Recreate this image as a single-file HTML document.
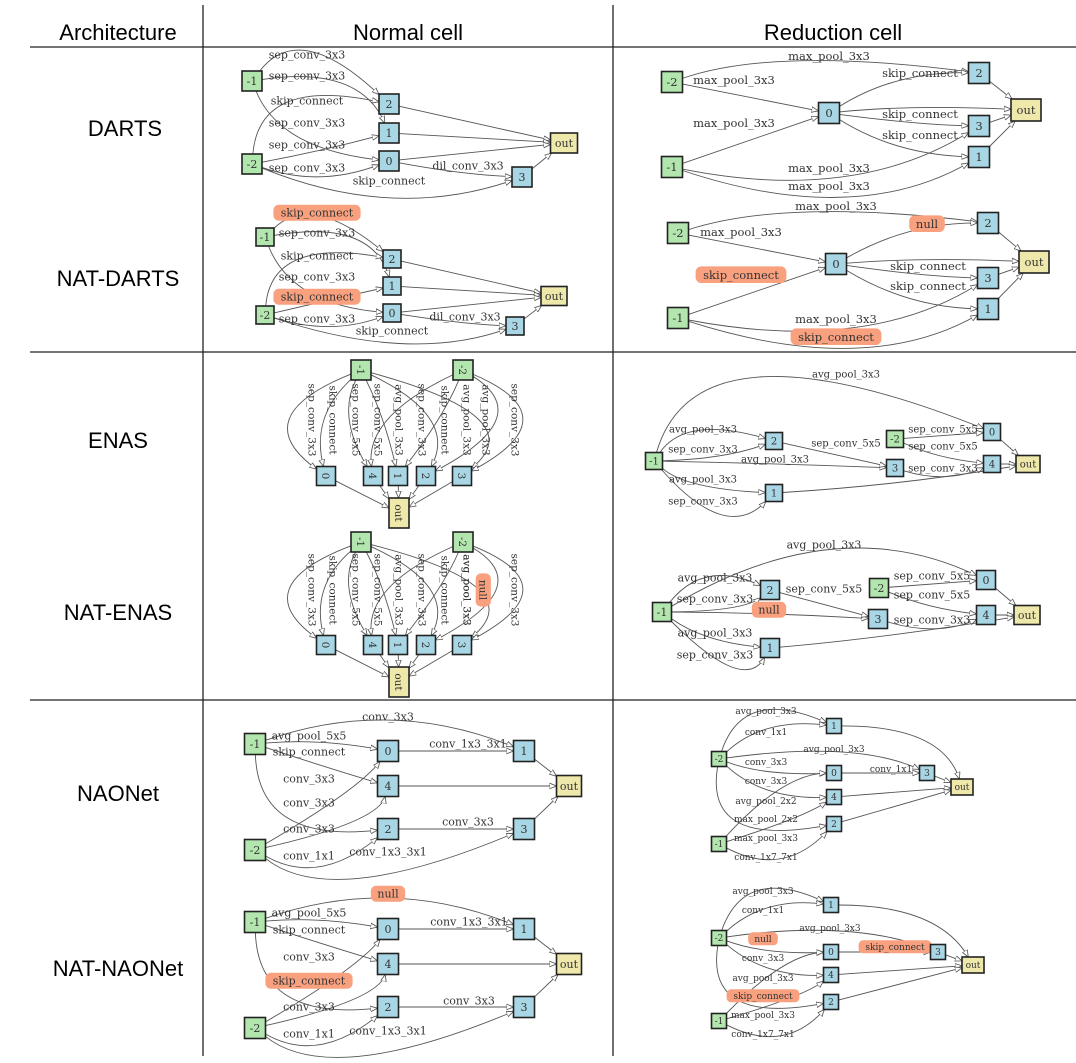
<!DOCTYPE html>
<html><head><meta charset="utf-8"><style>
html,body{margin:0;padding:0;background:#fff;}
svg{display:block;}
.h{font-family:"Liberation Sans",sans-serif;font-size:22px;fill:#000;}
</style></head><body>
<svg id="s" width="1076" height="1063" viewBox="0 0 1076 1063" xmlns="http://www.w3.org/2000/svg">
<defs><marker id="ar" viewBox="0 0 10 10" refX="10" refY="5" markerWidth="7" markerHeight="7" orient="auto" markerUnits="userSpaceOnUse"><path d="M0,1 L10,5 L0,9 Z" fill="#fff" stroke="#555" stroke-width="1.2"/></marker></defs>
<line x1="30" y1="47" x2="1076" y2="47" stroke="#222" stroke-width="1.3"/>
<line x1="30" y1="352" x2="1076" y2="352" stroke="#222" stroke-width="1.3"/>
<line x1="30" y1="700" x2="1076" y2="700" stroke="#222" stroke-width="1.3"/>
<line x1="203" y1="5" x2="203" y2="1056" stroke="#222" stroke-width="1.3"/>
<line x1="613" y1="5" x2="613" y2="1056" stroke="#222" stroke-width="1.3"/>
<text class="h" x="118" y="40" text-anchor="middle">Architecture</text>
<text class="h" x="408" y="40" text-anchor="middle">Normal cell</text>
<text class="h" x="833" y="40" text-anchor="middle">Reduction cell</text>
<text class="h" x="125" y="136" text-anchor="middle">DARTS</text>
<text class="h" x="118" y="286" text-anchor="middle">NAT-DARTS</text>
<text class="h" x="118" y="448" text-anchor="middle">ENAS</text>
<text class="h" x="118" y="620" text-anchor="middle">NAT-ENAS</text>
<text class="h" x="118" y="801" text-anchor="middle">NAONet</text>
<text class="h" x="118" y="976" text-anchor="middle">NAT-NAONet</text>
<g id="g"></g>
</svg>
<script>
var out='',edges='',labs='',nodes={},P='';
var COL={g:'#b2e6ae',b:'#a9d6e5',y:'#eee8aa'};
var FF='font-family="DejaVu Serif, Liberation Serif, serif"';
function N(id,x,y,lab,t,w,h,rot,fs){nodes[P+id]={x:x,y:y,w:w,h:h};
 out+='<rect x="'+(x-w/2)+'" y="'+(y-h/2)+'" width="'+w+'" height="'+h+'" fill="'+COL[t]+'" stroke="#222" stroke-width="1.6"/>';
 var tr=rot?' transform="rotate(90 '+x+' '+y+')"':'';
 out+='<text x="'+x+'" y="'+(y+fs*0.36)+'" text-anchor="middle" font-size="'+fs+'" fill="#333" '+FF+tr+'>'+lab+'</text>';}
function clip(n,px,py){var dx=px-n.x,dy=py-n.y;if(dx==0&&dy==0)return[n.x,n.y];
 var t=Math.min(dx?n.w/2/Math.abs(dx):1e9,dy?n.h/2/Math.abs(dy):1e9);return[n.x+dx*t,n.y+dy*t];}
function E(a,b,via){var s=nodes[P+a],d=nodes[P+b];
 if(!via){var p=clip(s,d.x,d.y),q=clip(d,s.x,s.y);edges+='<path d="M'+p+' L'+q+'" fill="none" stroke="#555" stroke-width="0.9" marker-end="url(#ar)"/>';return;}
 var cx=2*via[0]-(s.x+d.x)/2,cy=2*via[1]-(s.y+d.y)/2;
 var p=clip(s,cx,cy),q=clip(d,cx,cy);
 edges+='<path d="M'+p+' Q'+cx+','+cy+' '+q+'" fill="none" stroke="#555" stroke-width="0.9" marker-end="url(#ar)"/>';}
function L(x,y,t,fs,hl,rot){var w=t.length*fs*0.6+8,tr=rot?' transform="rotate(90 '+x+' '+y+')"':'';
 if(hl)labs+='<rect x="'+(x-w/2)+'" y="'+(y-fs*0.75)+'" width="'+w+'" height="'+(fs*1.45)+'" rx="'+(fs*0.5)+'" fill="#f9a07f"'+tr+'/>';
 labs+='<text x="'+x+'" y="'+(y+fs*0.33)+'" text-anchor="middle" font-size="'+fs+'" fill="#333" '+FF+tr+'>'+t+'</text>';}

/* DARTS normal */
P='a';var f=11,s=20;
N('m1',252,81,'-1','g',s,s,0,f);N('m2',252,164,'-2','g',s,s,0,f);
N('2',389,104,'2','b',s,s,0,f);N('1',389,133,'1','b',s,s,0,f);N('0',389,161,'0','b',s,s,0,f);
N('3',522,177,'3','b',s,s,0,f);N('o',564,143,'out','y',27,20,0,f);
E('m1','2',[310,56]);E('m1','1',[340,86]);E('m1','0',[300,135]);E('m2','2',[290,105]);E('m2','1',[320,150]);E('m2','0',[320,175]);E('m2','3',[390,196]);
E('2','o');E('1','o');E('0','o');E('0','3',[460,172]);E('3','o');
L(307,55,'sep_conv_3x3',f);L(307,76,'sep_conv_3x3',f);L(307,101,'skip_connect',f);L(307,123,'sep_conv_3x3',f);L(307,145,'sep_conv_3x3',f);L(307,168,'sep_conv_3x3',f);L(389,181,'skip_connect',f);L(468,166,'dil_conv_3x3',f);
/* NAT-DARTS normal */
P='b';s=18;
N('m1',265,237,'-1','g',s,s,0,f);N('m2',265,315,'-2','g',s,s,0,f);
N('2',392,259,'2','b',s,s,0,f);N('1',392,286,'1','b',s,s,0,f);N('0',392,313,'0','b',s,s,0,f);
N('3',515,326,'3','b',s,s,0,f);N('o',554,296,'out','y',26,19,0,f);
E('m1','2',[320,220]);E('m1','1',[350,240]);E('m1','0',[310,290]);E('m2','2',[300,262]);E('m2','1',[330,300]);E('m2','0',[330,325]);E('m2','3',[400,342]);
E('2','o');E('1','o');E('0','o');E('0','3',[460,322]);E('3','o');
L(317,213,'skip_connect',f,1);L(317,233,'sep_conv_3x3',f);L(317,256,'skip_connect',f);L(317,277,'sep_conv_3x3',f);L(317,297,'skip_connect',f,1);L(317,319,'sep_conv_3x3',f);L(392,331,'skip_connect',f);L(465,317,'dil_conv_3x3',f);
/* DARTS reduction */
P='c';s=21;f=11.5;
N('m2',672,82,'-2','g',s,s,0,f);N('m1',672,167,'-1','g',s,s,0,f);N('0',829,113,'0','b',s,s,0,f);
N('2',979,73,'2','b',s,s,0,f);N('3',979,126,'3','b',s,s,0,f);N('1',979,157,'1','b',s,s,0,f);N('o',1026,110,'out','y',30,22,0,f);
E('m2','2',[800,62]);E('m2','0');E('m1','0');E('0','2',[900,82]);E('0','o',[920,108]);E('0','3',[910,122]);E('0','1',[900,145]);
E('m1','3',[840,175]);E('m1','1',[840,195]);E('2','o');E('3','o');E('1','o');
L(829,56,'max_pool_3x3',f);L(920,73,'skip_connect',f);L(734,80,'max_pool_3x3',f);L(734,123,'max_pool_3x3',f);L(920,114,'skip_connect',f);L(920,135,'skip_connect',f);L(829,168,'max_pool_3x3',f);L(829,186,'max_pool_3x3',f);
/* NAT-DARTS reduction */
P='d';
N('m2',678,233,'-2','g',s,s,0,f);N('m1',678,318,'-1','g',s,s,0,f);N('0',836,264,'0','b',s,s,0,f);
N('2',988,223,'2','b',s,s,0,f);N('3',988,278,'3','b',s,s,0,f);N('1',988,309,'1','b',s,s,0,f);N('o',1034,262,'out','y',30,22,0,f);
E('m2','2',[810,213]);E('m2','0');E('m1','0');E('0','2',[910,233]);E('0','o',[930,260]);E('0','3',[920,274]);E('0','1',[910,297]);
E('m1','3',[850,326]);E('m1','1',[850,346]);E('2','o');E('3','o');E('1','o');
L(836,206,'max_pool_3x3',f);L(927,224,'null',f,1);L(741,232,'max_pool_3x3',f);L(741,275,'skip_connect',f,1);L(928,266,'skip_connect',f);L(928,286,'skip_connect',f);L(836,319,'max_pool_3x3',f);L(836,337,'skip_connect',f,1);

/* ENAS normal (rotated) */
function enasN(p,y0,yt,yo,ly,nul){P=p;f=10.5;
 N('m1',361,y0,'-1','g',20,20,1,f);N('m2',463,y0,'-2','g',20,20,1,f);
 N('0',326,yt,'0','b',19,19,1,f);N('4',373,yt,'4','b',19,19,1,f);N('1',398,yt,'1','b',19,19,1,f);N('2',426,yt,'2','b',19,19,1,f);N('3',462,yt,'3','b',19,19,1,f);
 N('o',399,yo,'out','y',20,30,1,f);
 var L1=[[300,'m1','0','sep_conv_3x3'],[333,'m1','0','skip_connect'],[352,'m1','4','sep_conv_5x5'],[376,'m1','1','sep_conv_5x5'],[397,'m2','4','avg_pool_3x3'],[420,'m1','2','sep_conv_3x3'],[443,'m2','1','skip_connect'],[467,'m1','3','avg_pool_3x3'],[485,'m2','2',nul?'null':'avg_pool_3x3'],[512,'m2','3','sep_conv_3x3']];
 L1.forEach(function(r){var sx=nodes[P+r[1]].x;var vx=r[0]<sx?r[0]-6:r[0]+6;if(Math.abs(r[0]-sx)<12)vx=r[0];E(r[1],r[2],[vx,ly]);});
 ['0','4','1','2','3'].forEach(function(k){E(k,'o');});
 L1.forEach(function(r){var lx=[312,333,356,378,399,422,445,467,486,515][L1.indexOf(r)];
  if(nul&&r[3]=='null')L(483,ly,'null',f,1,1);else L(lx,ly,r[3],f,0,1);});
 if(nul)L(467,ly,'avg_pool_3x3',f,0,1);
}
enasN('e',370,476,513,420,0);
/* remove duplicate avg label case handled: for NAT use null at 483 */
enasN('f',542,645,682,590,1);

/* ENAS reduction */
P='g';f=10;s=17;
N('m1',654,461,'-1','g',s,s,0,f);N('2',774,441,'2','b',s,s,0,f);N('1',774,493,'1','b',s,s,0,f);N('3',895,468,'3','b',s,s,0,f);
N('m2',895,439,'-2','g',s,s,0,f);N('0',992,432,'0','b',s,s,0,f);N('4',992,464,'4','b',s,s,0,f);N('o',1028,464,'out','y',24,17,0,f);
E('m1','0',[760,380]);E('m1','2',[700,433]);E('m1','2',[720,455]);E('m1','3',[775,464]);E('m1','1',[700,483]);E('m1','1',[720,510]);
E('2','3');E('m2','0');E('m2','4',[940,455]);E('3','4',[945,475]);E('0','o');E('4','o');E('1','o',[900,482]);
L(846,374,'avg_pool_3x3',f);L(703,429,'avg_pool_3x3',f);L(703,449,'sep_conv_3x3',f);L(775,459,'avg_pool_3x3',f);L(846,443,'sep_conv_5x5',f);L(943,429,'sep_conv_5x5',f);L(943,446,'sep_conv_5x5',f);L(943,468,'sep_conv_3x3',f);L(703,479,'avg_pool_3x3',f);L(703,501,'sep_conv_3x3',f);
/* NAT-ENAS reduction */
P='h';f=11;s=19;
N('m1',662,612,'-1','g',s,s,0,f);N('2',770,590,'2','b',s,s,0,f);N('1',770,648,'1','b',s,s,0,f);N('3',878,619,'3','b',s,s,0,f);
N('m2',879,588,'-2','g',s,s,0,f);N('0',986,580,'0','b',s,s,0,f);N('4',986,615,'4','b',s,s,0,f);N('o',1027,615,'out','y',26,19,0,f);
E('m1','0',[830,552]);E('m1','2',[710,580]);E('m1','2',[730,606]);E('m1','3',[770,614]);E('m1','1',[710,636]);E('m1','1',[730,662]);
E('2','3');E('m2','0');E('m2','4',[930,605]);E('3','4',[935,627]);E('0','o');E('4','o');E('1','o',[890,635]);
L(824,545,'avg_pool_3x3',f);L(715,578,'avg_pool_3x3',f);L(715,599,'sep_conv_3x3',f);L(769,610,'null',f,1);L(824,589,'sep_conv_5x5',f);L(932,576,'sep_conv_5x5',f);L(932,595,'sep_conv_5x5',f);L(932,620,'sep_conv_3x3',f);L(715,633,'avg_pool_3x3',f);L(715,655,'sep_conv_3x3',f);

/* NAONet normal */
function naoN(p,dy,nul){P=p;f=11;s=21;
 N('m1',255,744+dy,'-1','g',s,s,0,f);N('m2',255,850+dy,'-2','g',s,s,0,f);
 N('0',388,751+dy,'0','b',s,s,0,f);N('4',388,786+dy,'4','b',s,s,0,f);N('2',388,829+dy,'2','b',s,s,0,f);
 N('1',524,751+dy,'1','b',s,s,0,f);N('3',524,829+dy,'3','b',s,s,0,f);N('o',569,786+dy,'out','y',25,21,0,f);
 E('m1','1',[390,722+dy]);E('m1','0',[320,743+dy]);E('m1','4',[320,765+dy]);E('m1','2',[290,815+dy]);
 E('m2','0',[340,795+dy]);E('m2','4',[350,820+dy]);E('m2','2',[320,863+dy]);E('m2','3',[360,875+dy]);
 E('0','1');E('4','o');E('2','3');E('1','o');E('3','o');
}
naoN('i',0);
L(388,717,'conv_3x3',f);L(309,736,'avg_pool_5x5',f);L(309,752,'skip_connect',f);L(309,779,'conv_3x3',f);L(309,803,'conv_3x3',f);L(309,829,'conv_3x3',f);L(309,856,'conv_1x1',f);L(388,852,'conv_1x3_3x1',f);L(468,744,'conv_1x3_3x1',f);L(468,822,'conv_3x3',f);
naoN('j',178);
L(388,894,'null',f,1);L(309,913,'avg_pool_5x5',f);L(309,930,'skip_connect',f);L(309,957,'conv_3x3',f);L(309,981,'skip_connect',f,1);L(309,1007,'conv_3x3',f);L(309,1034,'conv_1x1',f);L(388,1031,'conv_1x3_3x1',f);L(469,922,'conv_1x3_3x1',f);L(469,1001,'conv_3x3',f);

/* NAONet reduction */
function naoR(p,m2y,m1y,n1,n0,n4,n2,n3x,n3y,ox,oy,nx){P=p;f=9;s=15;
 N('m2',719,m2y,'-2','g',s,s,0,f);N('m1',719,m1y,'-1','g',s,s,0,f);
 N('1',nx,n1,'1','b',s,s,0,f);N('0',nx,n0,'0','b',s,s,0,f);N('4',nx,n4,'4','b',s,s,0,f);N('2',nx,n2,'2','b',s,s,0,f);
 N('3',n3x,n3y,'3','b',s,s,0,f);N('o',ox,oy,'out','y',22,16,0,f);
 E('m2','1',[760,n1-12]);E('m2','1',[770,n1+4]);E('m2','3',[840,n0-20]);E('m2','0',[770,n0-2]);E('m2','4',[770,n4-8]);E('m2','2',[740,n2-4]);
 E('m1','0',[780,n0+18]);E('m1','4',[790,n4+22]);E('m1','2',[780,m1y+12]);
 E('0','3');E('1','o',[920,n1+15]);E('3','o');E('4','o');E('2','o');
}
naoR('k',759,844,726,773,797,824,927,773,962,787,834);
L(766,711,'avg_pool_3x3',f);L(766,732,'conv_1x1',f);L(834,749,'avg_pool_3x3',f);L(766,762,'conv_3x3',f);L(891,769,'conv_1x1',f);L(766,781,'conv_3x3',f);L(766,801,'avg_pool_2x2',f);L(766,819,'max_pool_2x2',f);L(766,838,'max_pool_3x3',f);L(766,857,'conv_1x7_7x1',f);
naoR('l',938,1021,905,952,975,1002,938,952,973,965,831);
L(763,891,'avg_pool_3x3',f);L(763,910,'conv_1x1',f);L(763,939,'null',f,1);L(830,928,'avg_pool_3x3',f);L(895,947,'skip_connect',f,1);L(763,958,'conv_3x3',f);L(763,978,'avg_pool_3x3',f);L(763,996,'skip_connect',f,1);L(763,1015,'max_pool_3x3',f);L(763,1034,'conv_1x7_7x1',f);

document.getElementById('g').innerHTML=edges+labs+out;
</script>
</body></html>
